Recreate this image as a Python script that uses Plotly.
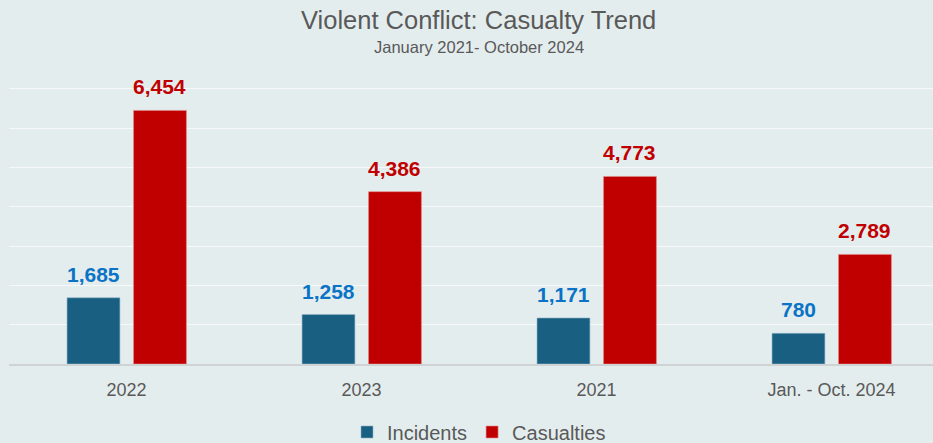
import plotly.graph_objects as go

categories = ["2022", "2023", "2021", "Jan. - Oct. 2024"]
incidents = [1685, 1258, 1171, 780]
casualties = [6454, 4386, 4773, 2789]
y_ticks = [0, 1000, 2000, 3000, 4000, 5000, 6000, 7000]

BG = "#E4EDEE"
INC_COLOR = "#185F82"
CAS_COLOR = "#C00000"
INC_LABEL = "#0A73C6"
GRAY = "#595959"
FONT = "Liberation Sans, Arial, sans-serif"

W = 0.225
OFF_INC = -0.253
OFF_CAS = 0.03

TOP = 85
BASE = 364
PH = BASE - TOP

fig = go.Figure()
fig.add_trace(go.Bar(
    name="Incidents", x=list(range(len(categories))), y=incidents,
    width=W, offset=OFF_INC, marker=dict(color=INC_COLOR, line=dict(width=0.6, color="#8FB3C6")),
))
fig.add_trace(go.Bar(
    name="Casualties", x=list(range(len(categories))), y=casualties,
    width=W, offset=OFF_CAS, marker=dict(color=CAS_COLOR, line=dict(width=0.6, color="#E08A8A")),
))

for i, v in enumerate(incidents):
    fig.add_annotation(x=i + OFF_INC + W / 2, y=v, text=f"{v:,}", showarrow=False,
                       yanchor="bottom", yshift=10,
                       font=dict(family=FONT, size=21, color=INC_LABEL, weight="bold"))
for i, v in enumerate(casualties):
    fig.add_annotation(x=i + OFF_CAS + W / 2, y=v, text=f"{v:,}", showarrow=False,
                       yanchor="bottom", yshift=10,
                       font=dict(family=FONT, size=21, color=CAS_COLOR, weight="bold"))

fig.add_annotation(text="Violent Conflict: Casualty Trend", xref="paper", yref="paper",
                   x=(478 - 9) / 924, y=(BASE - 20) / PH, yanchor="middle", showarrow=False,
                   font=dict(family=FONT, size=25.5, color=GRAY))
fig.add_annotation(text="January 2021- October 2024", xref="paper", yref="paper",
                   x=(479 - 9) / 924, y=(BASE - 47) / PH, yanchor="middle", showarrow=False,
                   font=dict(family=FONT, size=16.5, color=GRAY))

fig.update_layout(
    width=933, height=443,
    margin=dict(l=9, r=0, t=TOP, b=443 - BASE, autoexpand=False),
    paper_bgcolor=BG, plot_bgcolor=BG,
    barmode="overlay",
    showlegend=True,
    legend=dict(orientation="h", xanchor="center", yanchor="middle",
                x=(479 - 9) / 924, yref="container", y=1 - 432 / 443,
                font=dict(family=FONT, size=20, color=GRAY),
                itemwidth=30, bgcolor="rgba(0,0,0,0)"),
    font=dict(family=FONT, color=GRAY),
)
fig.update_xaxes(
    tickmode="array", tickvals=list(range(len(categories))), ticktext=categories,
    range=[-0.5, 3.432], showgrid=False, zeroline=False,
    showline=True, linecolor="#D0D3D4", linewidth=1.5,
    tickfont=dict(family=FONT, size=18, color=GRAY), ticks="", ticklen=0,
    ticklabelstandoff=9,
)
fig.update_yaxes(
    range=[0, 7100], tickvals=y_ticks, showticklabels=False,
    showgrid=True, gridcolor="#F7F9F9", gridwidth=1.2, zeroline=False,
)

fig.write_html("out.html", config={"displayModeBar": False},
               post_script="document.body.style.margin='0';document.body.style.background='" + BG + "';")
